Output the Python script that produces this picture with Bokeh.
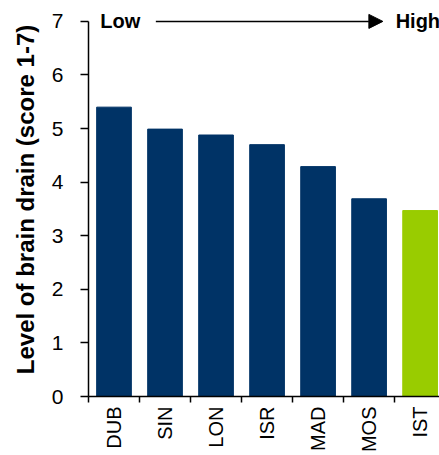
import math
from bokeh.plotting import figure
from bokeh.models import Range1d, FixedTicker, Label, Arrow, NormalHead, ColumnDataSource
from bokeh.embed import file_html
from bokeh.resources import INLINE

cities = ["DUB", "SIN", "LON", "ISR", "MAD", "MOS", "IST"]
scores = [5.40, 4.99, 4.88, 4.70, 4.29, 3.69, 3.47]
colors = ["#003366"] * 6 + ["#99CC00"]
y_ticks = [0, 1, 2, 3, 4, 5, 6, 7]
y_title = "Level of brain drain (score 1-7)"
scale_low = "Low"
scale_high = "High"

idx = list(range(len(cities)))
src = ColumnDataSource(dict(x=idx, top=scores, color=colors))

FONT = "Liberation Sans"

p = figure(width=439, height=455, output_backend="svg", toolbar_location=None,
           x_range=Range1d(-0.5, 6.38), y_range=Range1d(0, 7.3528),
           min_border_left=88, min_border_right=0, min_border_top=2, min_border_bottom=57)
p.outline_line_color = None
p.xgrid.visible = False
p.ygrid.visible = False

p.vbar(x="x", top="top", width=0.68, color="color", source=src)

# x axis
xa = p.xaxis[0]
xa.ticker = FixedTicker(ticks=idx, minor_ticks=[i - 0.5 for i in idx] + [len(idx) - 0.5])
xa.major_label_overrides = {i: c for i, c in enumerate(cities)}
xa.major_label_orientation = math.pi / 2
xa.major_tick_line_color = None
xa.major_tick_out = 0
xa.major_tick_in = 0
xa.minor_tick_out = 6
xa.minor_tick_in = 0
xa.minor_tick_line_color = "black"
xa.minor_tick_line_width = 1.5
xa.axis_line_color = "black"
xa.axis_line_width = 1.5
xa.major_label_standoff = 4
xa.major_label_text_font = FONT
xa.major_label_text_font_size = "20px"
xa.major_label_text_color = "black"

# y axis
ya = p.yaxis[0]
ya.ticker = FixedTicker(ticks=y_ticks)
ya.bounds = (y_ticks[0], y_ticks[-1])
ya.minor_tick_line_color = None
ya.major_tick_out = 8
ya.major_tick_in = 0
ya.major_tick_line_width = 1.5
ya.axis_line_width = 1.5
ya.major_label_standoff = 17
ya.major_label_text_font = FONT
ya.major_label_text_font_size = "21px"
ya.major_label_text_color = "black"
ya.axis_label = y_title
ya.axis_label_text_font = FONT
ya.axis_label_text_font_size = "24px"
ya.axis_label_text_font_style = "bold"
ya.axis_label_text_color = "black"
ya.axis_label_standoff = 10

# Low -> High annotation
p.add_layout(Label(x=-0.27, y=7, text=scale_low, text_font=FONT, text_font_size="20px",
                   text_font_style="bold", text_baseline="middle", text_color="black"))
p.add_layout(Arrow(x_start=0.82, y_start=7, x_end=5.27, y_end=7, line_width=1.5, line_color="black",
                   end=NormalHead(size=14, fill_color="black", line_color="black")))
p.add_layout(Label(x=5.52, y=7, text=scale_high, text_font=FONT, text_font_size="20px",
                   text_font_style="bold", text_baseline="middle", text_color="black"))

open("out.html", "w").write(file_html(p, INLINE))
